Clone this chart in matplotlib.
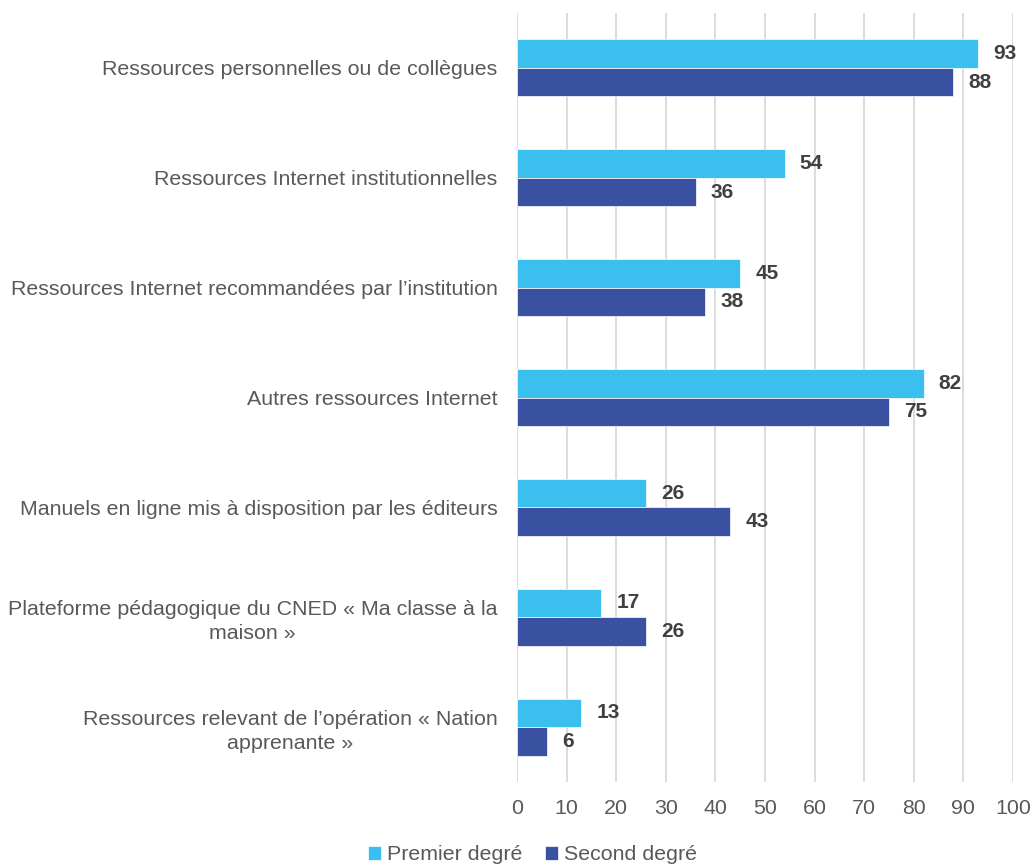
import matplotlib
matplotlib.use("Agg")
import matplotlib.pyplot as plt
import numpy as np

categories = [
    "Ressources personnelles ou de collègues",
    "Ressources Internet institutionnelles",
    "Ressources Internet recommandées par l’institution",
    "Autres ressources Internet",
    "Manuels en ligne mis à disposition par les éditeurs",
    "Plateforme pédagogique du CNED « Ma classe à la\nmaison »",
    "Ressources relevant de l’opération « Nation\napprenante »",
]
premier = [93, 54, 45, 82, 26, 17, 13]
second = [88, 36, 38, 75, 43, 26, 6]
series_names = ["Premier degré", "Second degré"]
xticks = [0, 10, 20, 30, 40, 50, 60, 70, 80, 90, 100]

c1 = "#3BBFEE"
c2 = "#3A50A0"

plt.rcParams['font.family'] = ['Liberation Sans', 'DejaVu Sans']

fig = plt.figure(figsize=(10.34, 8.67), dpi=100)
ax = fig.add_axes([0.5, 0.098, 0.4797, 0.887])

y = np.arange(len(categories))
h = 0.26
b1 = ax.barh(y - h/2, premier, height=h, color=c1, edgecolor="white", linewidth=0.5, label=series_names[0], zorder=3)
b2 = ax.barh(y + h/2, second, height=h, color=c2, edgecolor="white", linewidth=0.5, label=series_names[1], zorder=3)

for bars, vals in ((b1, premier), (b2, second)):
    for rect, v in zip(bars, vals):
        ax.annotate(str(v), (rect.get_width(), rect.get_y() + rect.get_height()/2),
                    xytext=(15, 0), textcoords="offset pixels",
                    ha="left", va="center", fontsize=15, fontweight="bold", color="#404040")

ax.set_ylim(len(categories) - 0.5, -0.5)
ax.set_xlim(0, 100)
ax.set_xticks(xticks)
ax.set_xticklabels([str(t) for t in xticks])
ax.set_yticks(y)
ax.set_yticklabels(categories, multialignment="center", linespacing=1.35)
ax.tick_params(axis="y", length=0, pad=14, labelsize=15.4, labelcolor="#595959")
ax.tick_params(axis="x", length=0, pad=12, labelsize=15.4, labelcolor="#595959")
ax.grid(axis="x", color="#D9D9D9", linewidth=1.3, zorder=0)
for s in ax.spines.values():
    s.set_visible(False)

leg = fig.legend(handles=[b1, b2], labels=series_names, loc="center",
                 bbox_to_anchor=(0.515, 0.014), ncol=2, frameon=False,
                 fontsize=15.4, handlelength=0.6, handleheight=0.6,
                 handletextpad=0.25, columnspacing=1.1)
for t in leg.get_texts():
    t.set_color("#595959")

fig.savefig("out.png", dpi=100)
